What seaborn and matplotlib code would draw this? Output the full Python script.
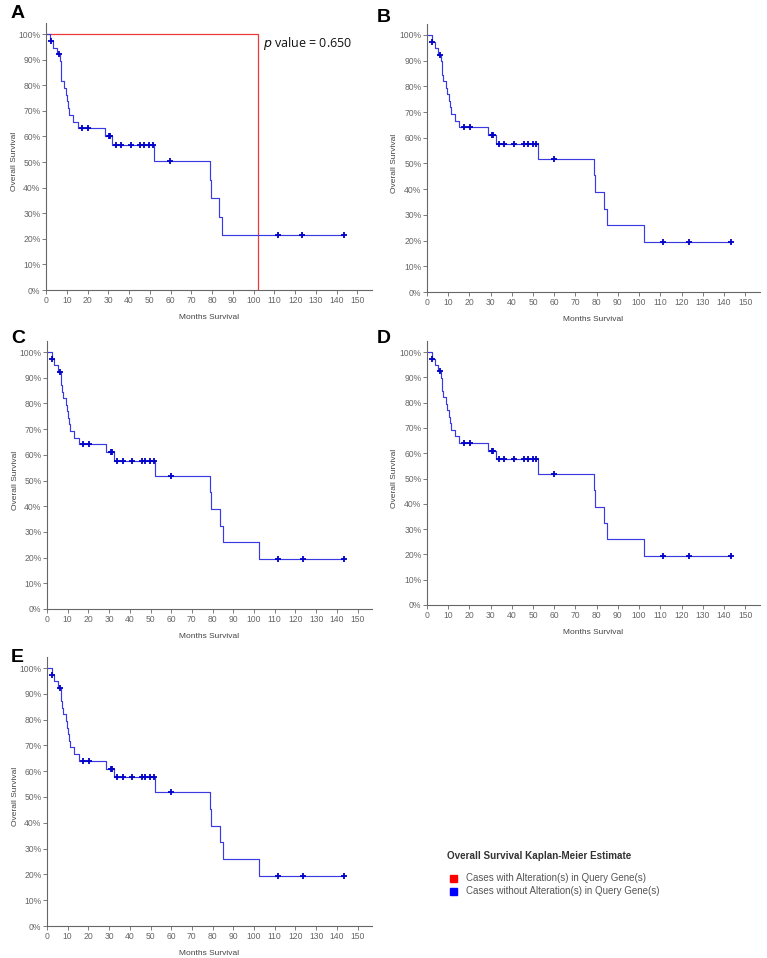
import matplotlib
matplotlib.use("Agg")
import matplotlib.pyplot as plt
import seaborn as sns
import pandas as pd


# -------------------------------
# Data
# -------------------------------

# Panel A, cases without alteration (step curve)
a_times = [0, 2.1, 3.5, 5.2, 6.8, 7.0, 7.2, 7.4, 8.7, 9.5, 10.3, 10.8, 11.1,
           12.9, 15.2, 28.4, 31.8, 52.1, 78.9, 79.4, 83.5, 84.8, 143.5]
a_surv = [100, 97.4, 94.7, 92.1, 89.5, 86.8, 84.2, 81.6, 78.9, 76.3, 73.7,
          71.1, 68.4, 65.8, 63.2, 60.0, 56.5, 50.3, 43.1, 35.9, 28.7, 21.6, 21.6]
a_cens_t = [2.4, 6.1, 17.1, 20.2, 30.5, 31.0, 33.5, 36.0, 41.0, 45.5, 47.0,
            49.5, 51.3, 59.8, 111.5, 123.5, 143.5]
a_cens_s = [97.4, 92.1, 63.2, 63.2, 60.0, 60.0, 56.5, 56.5, 56.5, 56.5, 56.5,
            56.5, 56.5, 50.3, 21.6, 21.6, 21.6]

# Panel A, cases with alteration
alt_times = [0, 102.3]
alt_surv = [100, 0]

# Panels B-E (all the same curve)
b_times = [0, 2.2, 3.6, 5.2, 6.7, 7.0, 7.2, 7.5, 9.1, 9.6, 10.3, 10.8, 11.3,
           13.1, 15.3, 28.6, 32.5, 52.4, 78.9, 79.4, 83.5, 84.8, 102.3, 143.5]
b_surv = [100, 97.4, 94.9, 92.3, 89.7, 87.2, 84.6, 82.1, 79.5, 76.9, 74.4,
          71.8, 69.2, 66.7, 64.1, 61.0, 57.6, 51.9, 45.4, 38.9, 32.4, 25.9,
          19.5, 19.5]
b_cens_t = [2.5, 6.3, 17.4, 20.3, 30.8, 31.3, 34.0, 36.5, 41.2, 45.8, 47.4,
            49.8, 51.5, 60.0, 111.5, 123.5, 143.5]
b_cens_s = [97.4, 92.3, 64.1, 64.1, 61.0, 61.0, 57.6, 57.6, 57.6, 57.6, 57.6,
            57.6, 57.6, 51.9, 19.5, 19.5, 19.5]

x_ticks = list(range(0, 151, 10))
y_ticks = list(range(0, 101, 10))
y_tick_labels = [f"{v}%" for v in y_ticks]

panel_letters = ["A", "B", "C", "D", "E"]

legend_title = "Overall Survival Kaplan-Meier Estimate"
legend_labels = ["Cases with Alteration(s) in Query Gene(s)",
                 "Cases without Alteration(s) in Query Gene(s)"]


# -------------------------------
# Style
# -------------------------------

sns.set_style("ticks")
plt.rcParams["font.family"] = ["Liberation Sans", "DejaVu Sans"]

W, H = 767, 958
fig = plt.figure(figsize=(W / 100, H / 100), dpi=100)

BLUE_LINE = "#3a3ae2"
BLUE_MARK = "#0000c8"
RED_LINE = "#ec3a3e"
GREY = "#666666"


def add_panel(left, top, right, zero_y, full_y):
    # axis in pixel coords: zero_y is where 0% sits, full_y where 100% sits
    px_per_pct = (zero_y - full_y) / 100.0
    ymax = 104.3
    axes_top = zero_y - ymax * px_per_pct
    ax = fig.add_axes([left / W, 1 - zero_y / H,
                       (right - left) / W, (zero_y - axes_top) / H])
    ax.set_xlim(0, 157)
    ax.set_ylim(0, ymax)
    return ax


def style_axes(ax):
    sns.despine(ax=ax)
    for s in ["left", "bottom"]:
        ax.spines[s].set_color(GREY)
        ax.spines[s].set_linewidth(0.8)
    ax.set_xticks(x_ticks)
    ax.set_yticks(y_ticks)
    ax.set_yticklabels(y_tick_labels)
    ax.tick_params(length=3, width=0.6, color=GREY, labelcolor=GREY,
                   labelsize=6.2, pad=1)
    ax.set_xlabel("Months Survival", fontsize=6.0, color="#444444")
    ax.set_ylabel("Overall Survival", fontsize=6.0, color="#444444")
    ax.xaxis.set_label_coords(0.5, -0.09)
    ax.yaxis.set_label_coords(-0.086, 0.48)


def draw_curve(ax, times, surv, cens_t, cens_s, line_color):
    curve = pd.DataFrame({"t": times, "s": surv})
    sns.lineplot(data=curve, x="t", y="s", ax=ax, estimator=None, sort=False,
                 drawstyle="steps-post", color=line_color, linewidth=0.85)
    cens = pd.DataFrame({"t": cens_t, "s": cens_s})
    sns.scatterplot(data=cens, x="t", y="s", ax=ax, marker="+", s=20,
                    color=BLUE_MARK, linewidth=1.3, zorder=5)


# pixel boxes: left, top(unused), right, y of 0%, y of 100%
boxes = [
    (46, 23, 372, 290, 34),
    (427, 23, 760, 292, 35),
    (47, 341, 372, 609, 352),
    (427, 341, 760, 605, 352),
    (47, 657, 372, 926, 668),
]

for i, (l, t, r, z, f) in enumerate(boxes):
    ax = add_panel(l, t, r, z, f)
    if i == 0:
        alt = pd.DataFrame({"t": alt_times, "s": alt_surv})
        sns.lineplot(data=alt, x="t", y="s", ax=ax, estimator=None, sort=False,
                     drawstyle="steps-post", color=RED_LINE, linewidth=0.9)
        draw_curve(ax, a_times, a_surv, a_cens_t, a_cens_s, BLUE_LINE)
        ax.text(0.665, 0.925, "$\\it{p}$ value = 0.650", transform=ax.transAxes,
                fontsize=9, color="#111111", family=["Open Sans", "DejaVu Sans"],
                va="center", ha="left")
    else:
        draw_curve(ax, b_times, b_surv, b_cens_t, b_cens_s, BLUE_LINE)
    style_axes(ax)

# panel letters
letter_pos = [(11, 13), (377, 18), (11, 338), (377, 338), (11, 658)]
for letter, (x, y) in zip(panel_letters, letter_pos):
    fig.text(x / W, 1 - y / H, letter, fontsize=14, fontweight="bold",
             va="center", ha="left", color="black")

# legend block
fig.text(447 / W, 1 - 856 / H, legend_title, fontsize=7.1, fontweight="bold",
         color="#333333", va="center", ha="left")
leg_colors = ["#ff0000", "#0000ff"]
for k, (lab, c) in enumerate(zip(legend_labels, leg_colors)):
    yy = 878 + k * 13.5
    fig.patches.append(plt.Rectangle((450 / W, 1 - (yy + 3.5) / H), 7 / W, 7 / H,
                                     transform=fig.transFigure, color=c))
    fig.text(466 / W, 1 - yy / H, lab, fontsize=7.0, color="#555555",
             va="center", ha="left")

plt.savefig("out.png", dpi=100)
plt.close()
